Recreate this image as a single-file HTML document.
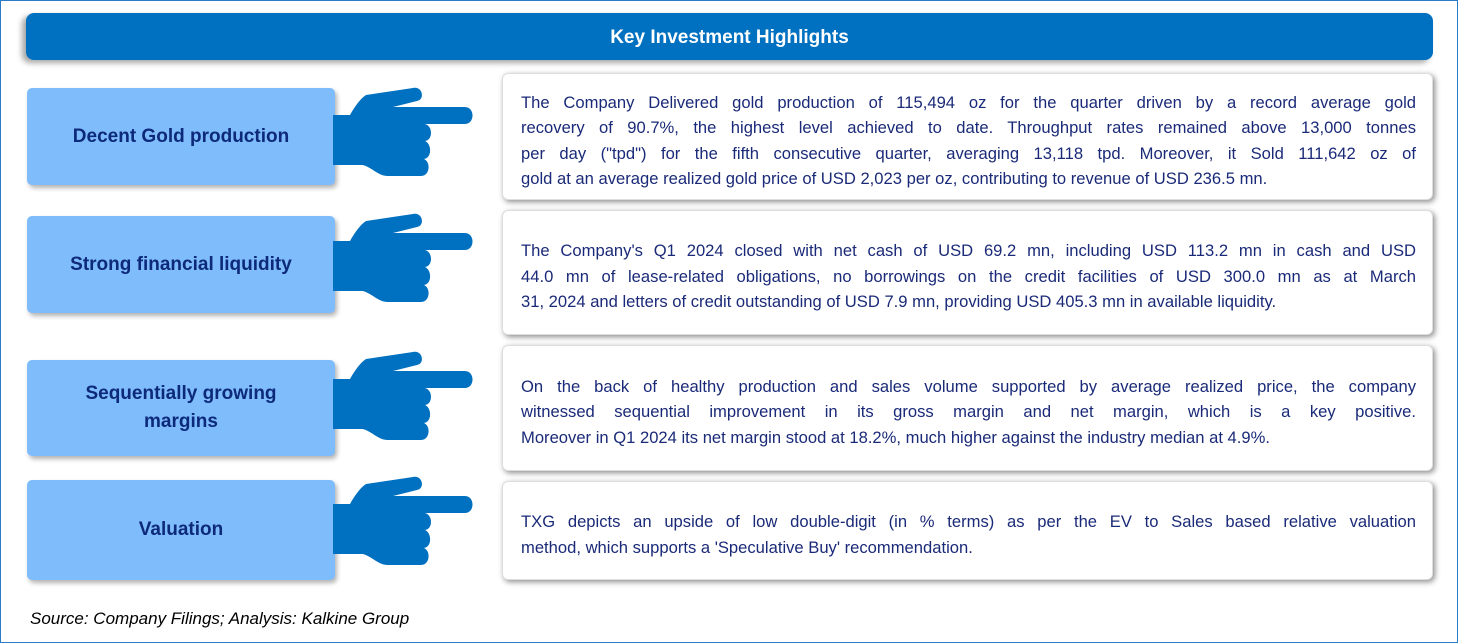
<!DOCTYPE html>
<html><head><meta charset="utf-8">
<style>
html,body{margin:0;padding:0;background:#fff}
body{width:1458px;height:643px;position:relative;overflow:hidden;font-family:"Liberation Sans",sans-serif}
.frame{position:absolute;left:0;top:0;width:1456px;height:641px;border:1px solid #2a7bc8}
.title{position:absolute;left:26px;top:13px;width:1407px;height:47px;background:#0070c0;border-radius:8px;box-shadow:-4px 3px 6px rgba(0,0,0,.35);color:#fff;font-weight:bold;font-size:19px;text-align:center;line-height:50px}
.lab{position:absolute;left:27px;width:308px;background:#7fbcfc;border-radius:5px;box-shadow:2px 3px 5px rgba(0,0,0,.3);color:#0d2a7a;font-weight:bold;font-size:19px;display:flex;align-items:center;justify-content:center;text-align:center;line-height:28px}
.box{position:absolute;left:502px;width:931px;background:#fff;border-radius:6px;box-shadow:2px 2px 6px rgba(0,0,0,.45);border:1px solid #ddd;box-sizing:border-box;color:#1a2a78;font-size:16.6px;display:flex;flex-direction:column;justify-content:center;padding:8px 16px 0 18px}
.box div{line-height:25.5px;text-align:justify;text-align-last:justify;white-space:nowrap}
.box div.l{text-align-last:left}
.hand{position:absolute;left:333px}
.src{position:absolute;left:30px;top:609px;font-style:italic;font-size:17px;color:#000}
</style></head><body>
<div class="frame"></div>
<div class="title">Key Investment Highlights</div>

<svg width="0" height="0" style="position:absolute"><defs>
<path id="hp" d="M0,27 L17,27 C22,18 28,10 33,7 L80,0 C90,-2 92,12 84,13 L60,19 L132,19 C142,19 142,36 132,36 L92,36 C100,38 100,52 92,53 C99,56 99,70 91,71 C98,74 97,88 88,88 L55,88 C45,88 40,80 30,77 L0,77 Z" fill="#0070c0"/>
</defs></svg>

<div class="lab" style="top:88px;height:97px">Decent Gold production</div>
<svg class="hand" style="top:86px" width="140" height="92"><use href="#hp" y="2"/></svg>
<div class="box" style="top:73px;height:127px">
<div>The Company Delivered gold production of 115,494 oz for the quarter driven by a record average gold</div>
<div>recovery of 90.7%, the highest level achieved to date. Throughput rates remained above 13,000 tonnes</div>
<div>per day ("tpd") for the fifth consecutive quarter, averaging 13,118 tpd. Moreover, it Sold 111,642 oz of</div>
<div class="l">gold at an average realized gold price of USD 2,023 per oz, contributing to revenue of USD 236.5 mn.</div>
</div>

<div class="lab" style="top:216px;height:97px">Strong financial liquidity</div>
<svg class="hand" style="top:212px" width="140" height="92"><use href="#hp" y="2"/></svg>
<div class="box" style="top:210px;height:125px">
<div>The Company's Q1 2024 closed with net cash of USD 69.2 mn, including USD 113.2 mn in cash and USD</div>
<div>44.0 mn of lease-related obligations, no borrowings on the credit facilities of USD 300.0 mn as at March</div>
<div class="l">31, 2024 and letters of credit outstanding of USD 7.9 mn, providing USD 405.3 mn in available liquidity.</div>
</div>

<div class="lab" style="top:360px;height:96px">Sequentially growing<br>margins</div>
<svg class="hand" style="top:350px" width="140" height="92"><use href="#hp" y="2"/></svg>
<div class="box" style="top:345px;height:126px">
<div>On the back of healthy production and sales volume supported by average realized price, the company</div>
<div>witnessed sequential improvement in its gross margin and net margin, which is a key positive.</div>
<div class="l">Moreover in Q1 2024 its net margin stood at 18.2%, much higher against the industry median at 4.9%.</div>
</div>

<div class="lab" style="top:480px;height:100px">Valuation</div>
<svg class="hand" style="top:475px" width="140" height="92"><use href="#hp" y="2"/></svg>
<div class="box" style="top:481px;height:99px">
<div>TXG depicts an upside of low double-digit (in % terms) as per the EV to Sales based relative valuation</div>
<div class="l">method, which supports a 'Speculative Buy' recommendation.</div>
</div>

<div class="src">Source: Company Filings; Analysis: Kalkine Group</div>
</body></html>
